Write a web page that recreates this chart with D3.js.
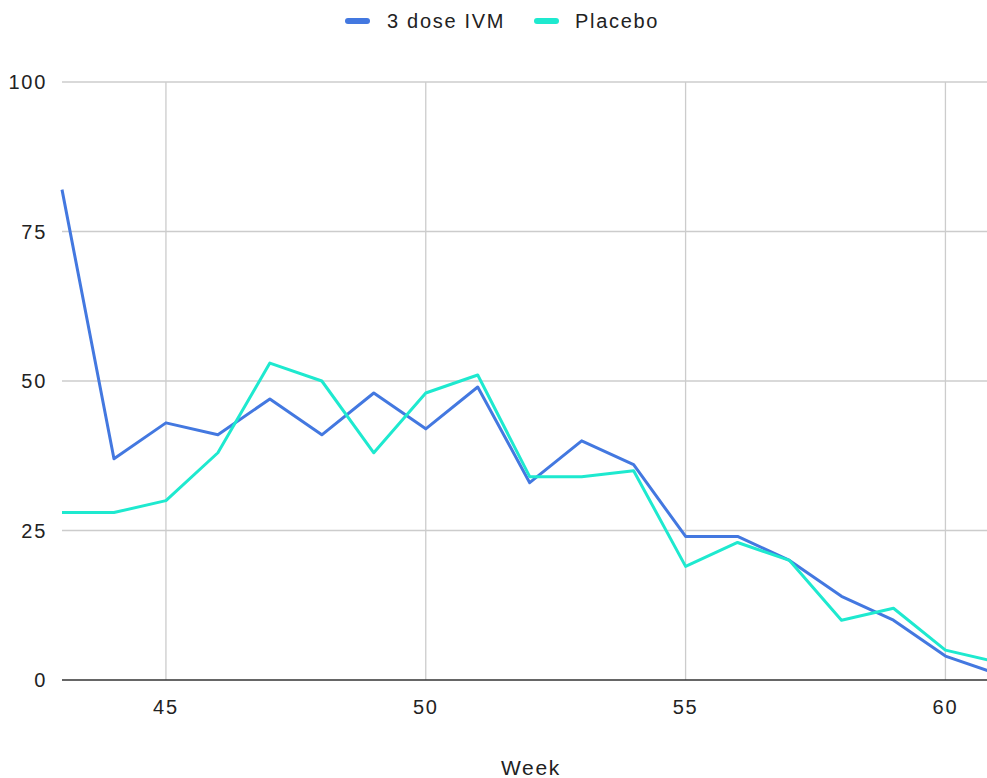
<!DOCTYPE html>
<html><head><meta charset="utf-8">
<script src="https://cdn.jsdelivr.net/npm/d3@7"></script>
<style>body{margin:0;background:#fff;}svg{display:block;font-family:"Liberation Sans",Arial,sans-serif;}</style>
</head><body><svg id="c" width="987" height="778"></svg>
<script>
const weeks = [43,44,45,46,47,48,49,50,51,52,53,54,55,56,57,58,59,60,61];
const ivm = [82,37,43,41,47,41,48,42,49,33,40,36,24,24,20,14,10,4,1];
const placebo = [28,28,30,38,53,50,38,48,51,34,34,35,19,23,20,10,12,5,3];
const seriesNames = ["3 dose IVM","Placebo"];
const colors = ["#4378e0","#1ee9cf"];
const xTicks = [45,50,55,60];
const yTicks = [0,25,50,75,100];

const svg = d3.select("#c");
const L=62, R=987, T=82, B=680;
const x = d3.scaleLinear().domain([43,60.8]).range([L,R]);
const y = d3.scaleLinear().domain([0,100]).range([B,T]);

svg.append("defs").append("clipPath").attr("id","clip").append("rect")
  .attr("x",L-5).attr("y",0).attr("width",R-L+5).attr("height",778);

svg.append("g").selectAll("line").data(xTicks).join("line")
  .attr("x1",d=>x(d)).attr("x2",d=>x(d)).attr("y1",T).attr("y2",B)
  .attr("stroke","#cccccc").attr("stroke-width",1.3);
svg.append("g").selectAll("line").data(yTicks.filter(d=>d>0)).join("line")
  .attr("x1",L).attr("x2",R).attr("y1",d=>y(d)).attr("y2",d=>y(d))
  .attr("stroke","#cccccc").attr("stroke-width",1.3);

const txt = sel => sel.attr("font-size",20).attr("letter-spacing",1.7).attr("fill","#222");

svg.append("g").selectAll("text").data(yTicks).join("text")
  .attr("x",47).attr("y",d=>y(d)).attr("dy","0.35em").attr("text-anchor","end")
  .call(txt).text(d=>d);
svg.append("g").selectAll("text").data(xTicks).join("text")
  .attr("x",d=>x(d)).attr("y",707).attr("dy","0.35em").attr("text-anchor","middle")
  .call(txt).text(d=>d);

svg.append("text").attr("x",531).attr("y",768).attr("dy","0.35em").attr("text-anchor","middle")
  .call(txt).attr("font-size",21).text("Week");

const line = d3.line().x((d,i)=>x(weeks[i])).y(d=>y(d));
const g = svg.append("g").attr("clip-path","url(#clip)");
[ivm,placebo].forEach((s,k)=>{
  g.append("path").datum(s).attr("d",line).attr("fill","none")
   .attr("stroke",colors[k]).attr("stroke-width",3).attr("stroke-linejoin","round");
});

svg.append("line").attr("x1",L).attr("x2",R).attr("y1",B).attr("y2",B)
  .attr("stroke","#333").attr("stroke-width",1.5);

const leg = [{x:345,tx:387},{x:534,tx:575}];
seriesNames.forEach((n,k)=>{
  svg.append("rect").attr("x",leg[k].x).attr("y",18).attr("width",25).attr("height",6)
    .attr("rx",3).attr("fill",colors[k]);
  svg.append("text").attr("x",leg[k].tx).attr("y",21).attr("dy","0.35em")
    .call(txt).text(n);
});
</script></body></html>
